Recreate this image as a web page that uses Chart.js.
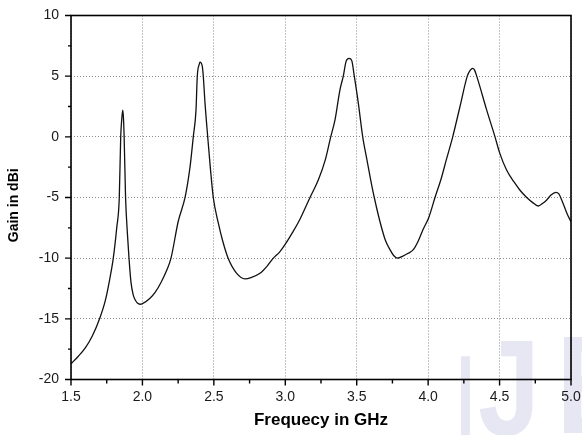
<!DOCTYPE html>
<html>
<head>
<meta charset="utf-8">
<script src="https://cdn.jsdelivr.net/npm/chart.js@4.4.1/dist/chart.umd.min.js"></script>
<style>
  html, body { margin: 0; padding: 0; background: #fff; }
</style>
</head>
<body>
<canvas id="gainChart" width="582" height="435"></canvas>
<script>
// frequency (GHz) and gain (dBi)
const freq = [1.50, 1.55, 1.60, 1.65, 1.70, 1.74, 1.77, 1.796, 1.82, 1.838, 1.848, 1.855, 1.862, 1.867, 1.872, 1.882, 1.895, 1.906, 1.92, 1.935, 1.95, 1.965, 1.983, 2.00, 2.053, 2.09, 2.13, 2.17, 2.20, 2.25, 2.30, 2.333, 2.356, 2.375, 2.384, 2.398, 2.403, 2.419, 2.426, 2.438, 2.457, 2.475, 2.496, 2.531, 2.56, 2.60, 2.66, 2.718, 2.76, 2.823, 2.87, 2.916, 2.96, 3.00, 3.05, 3.10, 3.173, 3.231, 3.28, 3.318, 3.348, 3.383, 3.406, 3.425, 3.446, 3.465, 3.483, 3.511, 3.542, 3.57, 3.598, 3.623, 3.663, 3.70, 3.733, 3.76, 3.787, 3.82, 3.86, 3.896, 3.93, 3.966, 4.006, 4.048, 4.09, 4.127, 4.172, 4.223, 4.274, 4.295, 4.312, 4.325, 4.34, 4.41, 4.468, 4.50, 4.549, 4.60, 4.643, 4.69, 4.73, 4.771, 4.80, 4.83, 4.86, 4.893, 4.915, 4.935, 4.955, 4.975, 5.00];
const gain = [-18.7, -18.1, -17.4, -16.4, -15.0, -13.5, -11.8, -10.0, -7.5, -5.0, 0.0, 1.4, 2.2, 1.6, 0.0, -5.0, -8.0, -10.0, -12.0, -13.0, -13.45, -13.7, -13.8, -13.75, -13.3, -12.8, -12.0, -11.0, -10.0, -7.0, -4.9, -2.5, 0.0, 2.2, 5.0, 6.0, 6.15, 5.8, 5.0, 2.8, 0.0, -2.5, -5.0, -7.1, -8.5, -10.0, -11.25, -11.7, -11.6, -11.25, -10.7, -10.0, -9.5, -8.85, -7.9, -6.86, -5.0, -3.56, -1.9, 0.0, 1.4, 3.9, 5.0, 6.2, 6.47, 6.3, 5.0, 2.8, 0.0, -1.8, -3.56, -5.0, -7.0, -8.5, -9.3, -9.8, -10.0, -9.85, -9.6, -9.3, -8.6, -7.6, -6.6, -5.0, -3.5, -1.9, 0.0, 2.5, 5.0, 5.5, 5.65, 5.5, 5.0, 2.2, 0.0, -1.3, -2.74, -3.7, -4.4, -5.0, -5.4, -5.7, -5.5, -5.2, -4.8, -4.58, -4.7, -5.2, -5.8, -6.4, -7.0];

// ticks
const xMajor = [1.5, 2.0, 2.5, 3.0, 3.5, 4.0, 4.5, 5.0];
const xMinor = [1.75, 2.25, 2.75, 3.25, 3.75, 4.25, 4.75];
const yMajor = [-20, -15, -10, -5, 0, 5, 10];
const yMinor = [-17.5, -12.5, -7.5, -2.5, 2.5, 7.5];

const points = freq.map((f, i) => ({ x: f, y: gain[i] }));

// faint watermark behind the plot
const watermark = {
  id: "watermark",
  beforeDraw(chart) {
    const ctx = chart.ctx;
    ctx.save();
    ctx.fillStyle = "rgba(195, 195, 228, 0.4)";
    ctx.textBaseline = "alphabetic";
    ctx.font = "bold 125px 'Liberation Sans'";
    ctx.fillText("I", 457, 442, 17);
    ctx.font = "bold 135px 'Liberation Sans'";
    ctx.fillText("J", 478, 435, 62);
    ctx.font = "bold 140px 'Liberation Sans'";
    ctx.fillText("E", 556, 433, 80);
    ctx.restore();
  }
};

// frame and tick marks, placed by the chart scales
const frameTicks = {
  id: "frameTicks",
  afterDraw(chart) {
    const ctx = chart.ctx;
    const a = chart.chartArea;
    const xs = chart.scales.x;
    const ys = chart.scales.y;
    ctx.save();
    ctx.setLineDash([]);
    ctx.strokeStyle = "#000";
    ctx.lineWidth = 1.6;
    ctx.strokeRect(a.left, a.top, a.right - a.left, a.bottom - a.top);
    ctx.lineWidth = 1.4;
    ctx.beginPath();
    xMajor.forEach(v => { const p = xs.getPixelForValue(v); ctx.moveTo(p, a.bottom); ctx.lineTo(p, a.bottom + 6); });
    xMinor.forEach(v => { const p = xs.getPixelForValue(v); ctx.moveTo(p, a.bottom); ctx.lineTo(p, a.bottom + 4); });
    yMajor.forEach(v => { const p = ys.getPixelForValue(v); ctx.moveTo(a.left, p); ctx.lineTo(a.left - 6, p); });
    yMinor.forEach(v => { const p = ys.getPixelForValue(v); ctx.moveTo(a.left, p); ctx.lineTo(a.left - 3, p); });
    ctx.stroke();
    ctx.restore();
  }
};

const tickFont = { family: "'Liberation Sans', Arial, sans-serif", size: 14 };

new Chart(document.getElementById("gainChart"), {
  type: "line",
  data: {
    datasets: [{
      data: points,
      borderColor: "#111",
      borderWidth: 1.3,
      pointRadius: 0,
      fill: false,
      cubicInterpolationMode: "monotone"
    }]
  },
  options: {
    responsive: false,
    animation: false,
    devicePixelRatio: 1,
    layout: { padding: { top: 15.5, right: 11, left: 0, bottom: 0 } },
    plugins: { legend: { display: false }, tooltip: { enabled: false } },
    scales: {
      x: {
        type: "linear",
        min: 1.5,
        max: 5.0,
        afterBuildTicks: s => { s.ticks = xMajor.map(v => ({ value: v })); },
        ticks: { callback: v => v.toFixed(1), font: tickFont, color: "#1a1a1a", padding: 9, maxRotation: 0, autoSkip: false },
        grid: { color: "#8a8a8a", lineWidth: 1, drawTicks: false },
        border: { display: false, dash: [1, 2] },
        title: { display: true, text: "Frequecy in GHz", color: "#000", font: { family: "'Liberation Sans', Arial, sans-serif", size: 17, weight: "bold" }, padding: { top: 0, bottom: 4.5 } },
        afterFit: s => { s.height = 55.5; s.paddingLeft = 0; s.paddingRight = 0; }
      },
      y: {
        min: -20,
        max: 10,
        afterBuildTicks: s => { s.ticks = yMajor.map(v => ({ value: v })); },
        ticks: { font: tickFont, color: "#1a1a1a", padding: 12 },
        grid: { color: "#8a8a8a", lineWidth: 1, drawTicks: false },
        border: { display: false, dash: [1, 2] },
        // trailing spaces nudge the rotated title a little lower, as in the picture
        title: { display: true, text: "Gain in dBi    ", color: "#000", font: { family: "'Liberation Sans', Arial, sans-serif", size: 14, weight: "bold" }, padding: { top: 6, bottom: 0 } },
        afterFit: s => { s.width = 71; s.paddingTop = 0; s.paddingBottom = 0; }
      }
    }
  },
  plugins: [watermark, frameTicks]
});
</script>
</body>
</html>
